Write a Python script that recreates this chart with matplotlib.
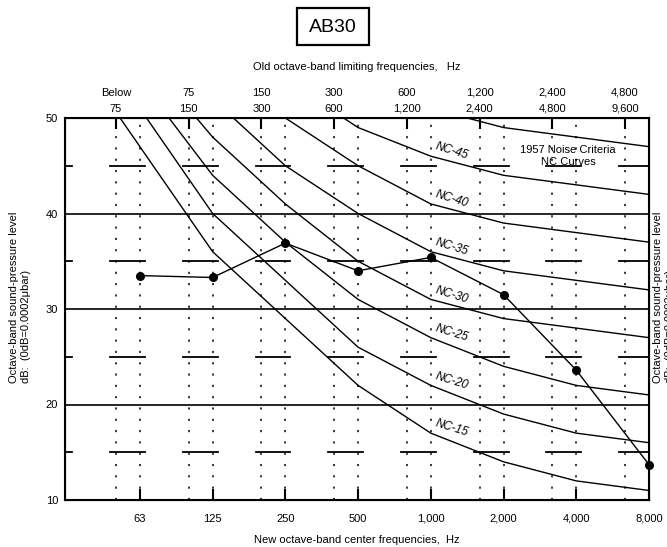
import numpy as np
import matplotlib
matplotlib.use('Agg')
import matplotlib.pyplot as plt
from matplotlib.patches import Rectangle

plt.rcParams['font.family'] = ['Liberation Sans', 'DejaVu Sans']

# bands
center_labels = ['63', '125', '250', '500', '1,000', '2,000', '4,000', '8,000']
old_low = ['Below', '75', '150', '300', '600', '1,200', '2,400', '4,800']
old_high = ['75', '150', '300', '600', '1,200', '2,400', '4,800', '9,600']

# NC curves, 31.5 Hz then 63 ... 8000 Hz
nc_names = ['NC-15', 'NC-20', 'NC-25', 'NC-30', 'NC-35', 'NC-40', 'NC-45', 'NC-50']
nc15 = [58, 47, 36, 29, 22, 17, 14, 12, 11]
nc20 = [62, 51, 40, 33, 26, 22, 19, 17, 16]
nc25 = [64, 54, 44, 37, 31, 27, 24, 22, 21]
nc30 = [66, 57, 48, 41, 35, 31, 29, 28, 27]
nc35 = [68, 60, 52, 45, 40, 36, 34, 33, 32]
nc40 = [72, 64, 56, 50, 45, 41, 39, 38, 37]
nc45 = [74, 67, 60, 54, 49, 46, 44, 43, 42]
nc50 = [78, 71, 64, 58, 54, 51, 49, 48, 47]
nc_curves = [nc15, nc20, nc25, nc30, nc35, nc40, nc45, nc50]

# measured spectrum AB30
ab30 = [33.5, 33.3, 36.9, 34.0, 35.4, 31.5, 23.6, 13.7]

old_shift = 0.33  # old band ticks sit a third of an octave left
fs = 8

fig = plt.figure(figsize=(6.67, 5.47), dpi=100)
ax = fig.add_axes([65/667, 47/547, 584/667, 382/547])

x = np.arange(len(center_labels))
x_nc = np.arange(-1, len(center_labels))

for i in x:
    ax.axvline(i, color='k', lw=1.1, ls=(0, (1.4, 6)))
    ax.axvline(i - old_shift, color='k', lw=1.1, ls=(0, (1.4, 6)))

for yv in [20, 30, 40]:
    ax.axhline(yv, color='k', lw=1.2)

for yv in [15, 25, 35, 45]:
    for i in x_nc:
        ax.plot([i - old_shift - 0.08, i + 0.07], [yv, yv], color='k', lw=1.3)

for vals in nc_curves:
    ax.plot(x_nc, vals, color='k', lw=1.0)

for name, vals in zip(nc_names[:-1], nc_curves[:-1]):
    ax.text(4.29, vals[5] + 0.5, name, fontsize=8.5, style='italic',
            rotation=-17, ha='center', va='center', rotation_mode='anchor')

ax.text(5.89, 46.0, '1957 Noise Criteria\nNC Curves', fontsize=fs, ha='center', va='center')

ax.plot(x, ab30, color='k', lw=1.0, marker='o', ms=5.5, clip_on=False, zorder=5)

ax.set_xlim(-1.03, 7)
ax.set_ylim(10, 50)
ax.set_xticks(x)
ax.set_xticklabels(center_labels, fontsize=fs)
ax.set_yticks([10, 20, 30, 40, 50])
ax.set_yticklabels(['10', '20', '30', '40', '50'], fontsize=fs)
ax.tick_params(axis='x', direction='in', length=8, width=1.5, pad=10)
ax.tick_params(axis='y', length=0, pad=5)
for sp in ax.spines.values():
    sp.set_linewidth(1.5)

ax2 = ax.twiny()
ax2.set_xlim(ax.get_xlim())
ax2.set_xticks(x - old_shift)
ax2.set_xticklabels([f'{a}\n{b}' for a, b in zip(old_low, old_high)], fontsize=fs)
for lab in ax2.get_xticklabels():
    lab.set_linespacing(1.75)
ax2.tick_params(axis='x', direction='in', length=8, width=1.5, pad=3)

fig.text(357/667, 1 - 67/547, 'Old octave-band limiting frequencies,   Hz',
         fontsize=fs, ha='center', va='center')
fig.text(357/667, 1 - 540/547, 'New octave-band center frequencies,  Hz',
         fontsize=fs, ha='center', va='center')

ylab = 'Octave-band sound-pressure level\ndB:  (0dB=0.0002\u03bcbar)'
fig.text(20/667, 1 - 383/547, ylab, fontsize=fs, rotation=90,
         ha='center', va='bottom', multialignment='left')
fig.text(664/667, 1 - 383/547, ylab, fontsize=fs, rotation=90,
         ha='center', va='bottom', multialignment='left')

fig.patches.append(Rectangle((297/667, 1 - 45/547), 72/667, 37/547,
                             transform=fig.transFigure, fill=False, lw=1.6, ec='k'))
fig.text(333/667, 1 - 27/547, 'AB30', fontsize=14, ha='center', va='center')

fig.savefig('out.png', dpi=100)
